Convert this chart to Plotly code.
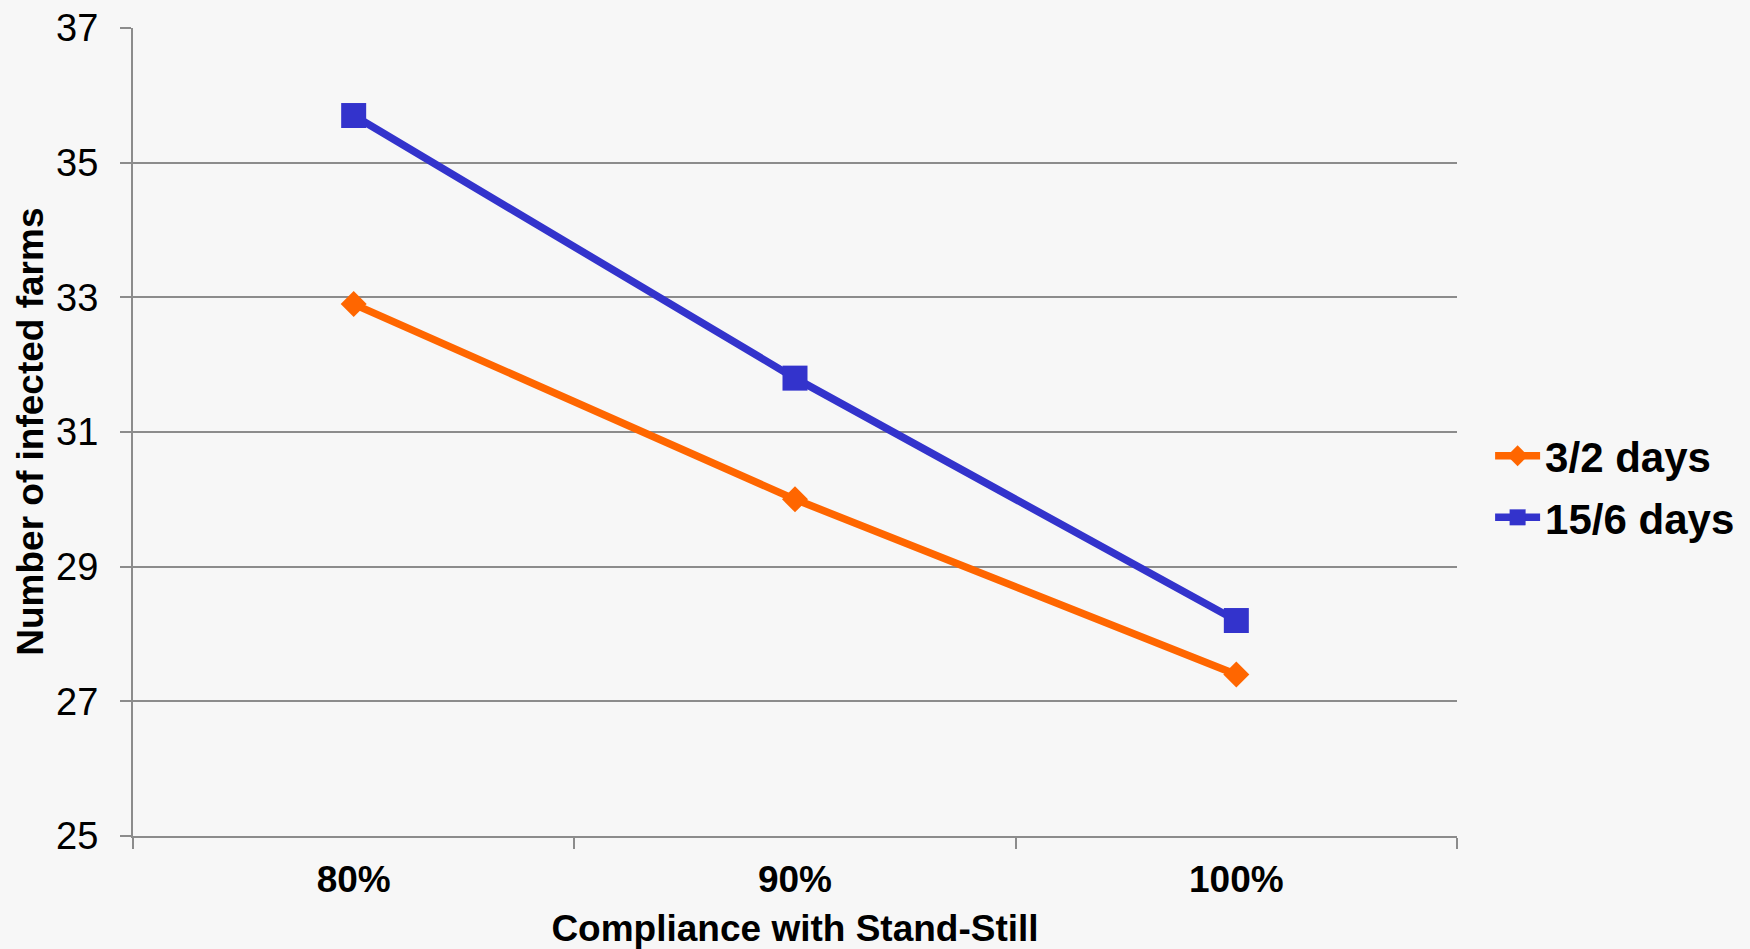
import plotly.graph_objects as go

# Compliance levels and infected-farm counts for two stand-still durations
compliance = ["80%", "90%", "100%"]
days_3_2 = [32.9, 30.0, 27.4]
days_15_6 = [35.7, 31.8, 28.2]
y_ticks = [25, 27, 29, 31, 33, 35, 37]

ORANGE = "#FF6600"
BLUE = "#3333CC"
GRID = "#8C8C8C"
BG = "#F7F7F7"
SANS = "Liberation Sans, Arial, sans-serif"

fig = go.Figure()
fig.add_trace(go.Scatter(
    x=compliance, y=days_3_2, name="3/2 days", mode="lines+markers",
    line=dict(color=ORANGE, width=7.5),
    marker=dict(symbol="diamond", size=20, color=ORANGE),
    legendgroup="a",
))
fig.add_trace(go.Scatter(
    x=compliance, y=days_15_6, name="15/6 days", mode="lines+markers",
    line=dict(color=BLUE, width=7.5),
    marker=dict(symbol="square", size=25, color=BLUE),
    legendgroup="b",
))

fig.update_layout(
    width=1750, height=949,
    paper_bgcolor=BG, plot_bgcolor=BG,
    margin=dict(l=133, r=293, t=28, b=113, autoexpand=False),
    showlegend=True,
    legend=dict(
        x=1.025, y=0.432, xanchor="left", yanchor="middle",
        font=dict(family=SANS, size=42, color="black", weight="bold"),
        bgcolor="rgba(0,0,0,0)", tracegroupgap=4, itemwidth=45,
    ),
    xaxis=dict(
        type="category", range=[-0.5, 2.5],
        showgrid=False, showline=True, linecolor=GRID, linewidth=2,
        ticks="outside", tickson="boundaries", ticklen=11, tickcolor=GRID, tickwidth=2,
        tickfont=dict(family=SANS, size=37, color="black", weight="bold"),
        ticklabelstandoff=10,
        title=dict(text="Compliance with Stand-Still", standoff=18,
                   font=dict(family=SANS, size=37, color="black", weight="bold")),
        automargin=False,
    ),
    yaxis=dict(
        range=[25, 37], tickvals=y_ticks,
        showgrid=True, gridcolor=GRID, gridwidth=2,
        showline=True, linecolor=GRID, linewidth=2,
        ticks="outside", ticklen=11, tickcolor=GRID, tickwidth=2,
        tickfont=dict(family=SANS, size=38, color="black"),
        ticklabelstandoff=14,
        automargin=False, zeroline=False,
    ),
    annotations=[dict(
        text="Number of infected farms", textangle=-90,
        xref="paper", yref="paper", x=-0.078, y=0.5,
        xanchor="center", yanchor="middle", showarrow=False,
        font=dict(family=SANS, size=37, color="black", weight="bold"),
    )],
)

fig.write_html("out.html")
